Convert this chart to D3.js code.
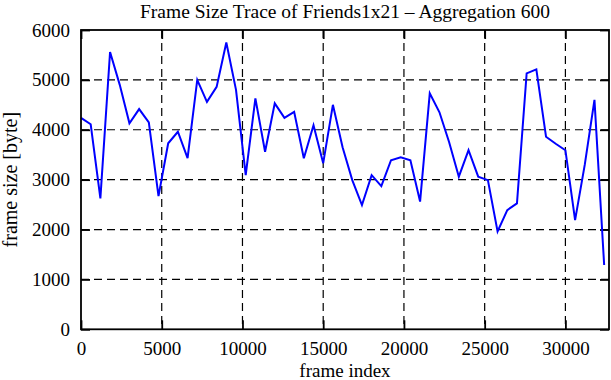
<!DOCTYPE html>
<html>
<head>
<meta charset="utf-8">
<script src="https://cdn.jsdelivr.net/npm/d3@7"></script>
<style>
  body { margin: 0; background: #fff; }
  svg text { font-family: "Liberation Serif", "DejaVu Serif", serif; fill: #000; }
</style>
</head>
<body>
<main></main>
<script>
// frame index (aggregation 600) and aggregated frame size [byte]
const frameIndex = [
  0, 600, 1200, 1800, 2400, 3000, 3600, 4200, 4800, 5400,
  6000, 6600, 7200, 7800, 8400, 9000, 9600, 10200, 10800, 11400,
  12000, 12600, 13200, 13800, 14400, 15000, 15600, 16200, 16800, 17400,
  18000, 18600, 19200, 19800, 20400, 21000, 21600, 22200, 22800, 23400,
  24000, 24600, 25200, 25800, 26400, 27000, 27600, 28200, 28800, 29400,
  30000, 30600, 31200, 31800, 32400
];
const frameSize = [
  4240, 4110, 2625, 5560, 4900, 4130, 4415, 4150, 2670, 3730,
  3960, 3430, 5000, 4560, 4860, 5750, 4800, 3090, 4630, 3560,
  4530, 4240, 4360, 3430, 4090, 3330, 4500, 3650, 2990, 2490,
  3090, 2870, 3390, 3450, 3390, 2560, 4730, 4350, 3750, 3060,
  3590, 3060, 2990, 1960, 2390, 2525, 5130, 5210, 3860, 3720,
  3590, 2190, 3300, 4600, 1290
];
const xTicks = [0, 5000, 10000, 15000, 20000, 25000, 30000];
const yTicks = [0, 1000, 2000, 3000, 4000, 5000, 6000];
const title = "Frame Size Trace of Friends1x21 \u2013 Aggregation 600";
const xTitle = "frame index";
const yTitle = "frame size [byte]";

const W = 611, H = 380;
const m = { left: 81, right: 2, top: 30, bottom: 50.7 };
const iw = W - m.left - m.right;
const ih = H - m.top - m.bottom;

const x = d3.scaleLinear().domain([0, 32700]).range([0, iw]);
const y = d3.scaleLinear().domain([0, 6000]).range([ih, 0]);

const svg = d3.select("main").append("svg")
  .attr("width", W)
  .attr("height", H);

const g = svg.append("g").attr("transform", `translate(${m.left},${m.top})`);

// dashed grid
g.append("g")
  .selectAll("line")
  .data(xTicks.filter(d => d > 0))
  .enter()
  .append("line")
  .attr("x1", d => x(d)).attr("x2", d => x(d))
  .attr("y1", 0).attr("y2", ih)
  .attr("stroke", "#000").attr("stroke-width", 1.2)
  .attr("stroke-dasharray", "8,5");

g.append("g")
  .selectAll("line")
  .data(yTicks.filter(d => d > 0 && d < 6000))
  .enter()
  .append("line")
  .attr("x1", 0).attr("x2", iw)
  .attr("y1", d => y(d)).attr("y2", d => y(d))
  .attr("stroke", "#000").attr("stroke-width", 1.2)
  .attr("stroke-dasharray", "8,5");

// axes with inward ticks, mirrored on top and right
function styleAxis(sel) {
  sel.select(".domain").remove();
  sel.selectAll(".tick line").attr("stroke", "#000").attr("stroke-width", 1.8);
  sel.selectAll(".tick text").attr("font-size", 19);
}

g.append("g")
  .attr("transform", `translate(0,${ih})`)
  .call(d3.axisBottom(x).tickValues(xTicks).tickSizeInner(-9).tickSizeOuter(0).tickPadding(12).tickFormat(d3.format("d")))
  .call(styleAxis);

g.append("g")
  .call(d3.axisTop(x).tickValues(xTicks).tickSizeInner(-9).tickSizeOuter(0).tickFormat(""))
  .call(styleAxis);

g.append("g")
  .call(d3.axisLeft(y).tickValues(yTicks).tickSizeInner(-9).tickSizeOuter(0).tickPadding(11).tickFormat(d3.format("d")))
  .call(styleAxis);

g.append("g")
  .attr("transform", `translate(${iw},0)`)
  .call(d3.axisRight(y).tickValues(yTicks).tickSizeInner(-9).tickSizeOuter(0).tickFormat(""))
  .call(styleAxis);

// data line
const line = d3.line()
  .x((d, i) => x(frameIndex[i]))
  .y(d => y(d));

g.append("path")
  .datum(frameSize)
  .attr("fill", "none")
  .attr("stroke", "#0000ff")
  .attr("stroke-width", 2)
  .attr("stroke-linejoin", "miter")
  .attr("d", line);

// frame
g.append("rect")
  .attr("x", 0).attr("y", 0)
  .attr("width", iw).attr("height", ih)
  .attr("fill", "none")
  .attr("stroke", "#000")
  .attr("stroke-width", 1.8);

// titles
svg.append("text")
  .attr("x", m.left + iw / 2).attr("y", 18)
  .attr("text-anchor", "middle")
  .attr("font-size", 19.5)
  .text(title);

svg.append("text")
  .attr("x", m.left + iw / 2).attr("y", 377)
  .attr("text-anchor", "middle")
  .attr("font-size", 19)
  .text(xTitle);

svg.append("text")
  .attr("transform", `translate(17,${m.top + ih / 2}) rotate(-90)`)
  .attr("text-anchor", "middle")
  .attr("font-size", 20)
  .text(yTitle);
</script>
</body>
</html>
